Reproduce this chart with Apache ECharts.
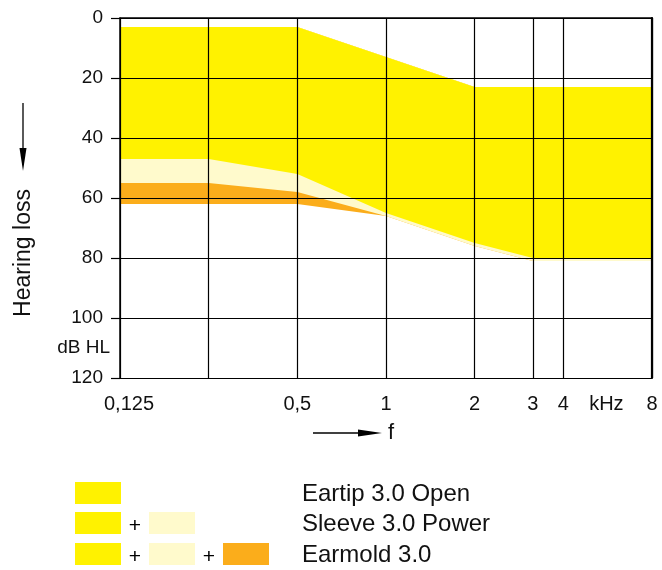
<!DOCTYPE html>
<html><head><meta charset="utf-8">
<script src="https://cdn.jsdelivr.net/npm/echarts@6/dist/echarts.min.js"></script>
<style>html,body{margin:0;padding:0;background:#fff}#c{width:662px;height:570px}</style>
</head><body><div id="c"></div>
<script>
// ---- data ----
const freqs = [0.125, 0.25, 0.5, 1, 2, 3.15, 8];
const openTop = [3, 3, 3, 13, 23, 23, 23];
const openBottom = [47, 47, 52, 65, 75, 80, 80];
const sleeveBottom = [55, 55, 58, 66, 76, 81, 81];
const earmoldBottom = [62, 62, 62, 66, 76, 81, 81];
const gridFreqs = [0.125, 0.25, 0.5, 1, 2, 3.15, 4, 8];
const freqLabels = [0.125, 0.5, 1, 2, 3.15, 4, 5.6, 8]; // 5.6 carries the unit "kHz"
const freqLabelText = ['0,125', '0,5', '1', '2', '3', '4', 'kHz', '8'];
const yTicks = [0, 20, 40, 60, 80, 100, 120];
const unitLabelValue = [110]; // "dB HL"
const names = ['Eartip 3.0 Open', 'Sleeve 3.0 Power', 'Earmold 3.0'];
const cOpen = '#fff200', cSleeve = '#fffacc', cEar = '#fbad1b';

const FONT = 'Arial, "Liberation Sans", sans-serif';

function bandSeries(name, top, bottom, color) {
  return {
    type: 'custom', name: name, silent: true, animation: false,
    data: freqs.map((f, i) => [f, top[i], bottom[i]]),
    encode: { x: 0, y: [1, 2] },
    renderItem: function (params, api) {
      if (params.dataIndex !== 0) return null;
      const n = params.dataInsideLength;
      const upper = [], lower = [];
      for (let j = 0; j < n; j++) {
        upper.push(api.coord([api.value(0, j), api.value(1, j)]));
        lower.push(api.coord([api.value(0, j), api.value(2, j)]));
      }
      return { type: 'polygon', shape: { points: upper.concat(lower.reverse()) }, style: { fill: color, stroke: null } };
    }
  };
}

const series = [
  bandSeries(names[2], openTop, earmoldBottom, cEar),
  bandSeries(names[1], openTop, sleeveBottom, cSleeve),
  bandSeries(names[0], openTop, openBottom, cOpen)
];

const fmtF = v => {
  let k = 0, best = Infinity;
  freqLabels.forEach((f, i) => { const d = Math.abs(f - v); if (d < best) { best = d; k = i; } });
  return k === 0 ? '{p|' + freqLabelText[0] + '}' : freqLabelText[k];
};

// legend graphics
const legendRows = [[cOpen], [cOpen, cSleeve], [cOpen, cSleeve, cEar]];
const rowY = [482, 512, 543];
const legendG = [];
legendRows.forEach((row, r) => {
  row.forEach((col, k) => {
    legendG.push({ type: 'rect', shape: { x: 75 + k * 74, y: rowY[r], width: 46, height: 22 }, style: { fill: col } });
    if (k > 0) legendG.push({ type: 'text', x: 135 + (k - 1) * 74, y: rowY[r] + 14, style: { text: '+', font: '21px ' + FONT, fill: '#000', textAlign: 'center', textVerticalAlign: 'middle' } });
  });
  legendG.push({ type: 'text', x: 302, y: rowY[r] + 12.5, style: { text: names[r], font: '24px ' + FONT, fill: '#111', textAlign: 'left', textVerticalAlign: 'middle' } });
});

const chart = echarts.init(document.getElementById('c'), null, { renderer: 'canvas' });
chart.setOption({
  animation: false,
  backgroundColor: '#fff',
  grid: { left: 120, right: 10, top: 18, bottom: 192, outerBoundsMode: 'none', containLabel: false },
  xAxis: {
    type: 'log', logBase: 2, min: 0.125, max: 8, z: 5,
    axisLine: { show: true, lineStyle: { color: '#000', width: 1.5 } },
    axisTick: { show: false, customValues: gridFreqs },
    splitLine: { show: true, customValues: gridFreqs, lineStyle: { color: '#000', width: 1.2 } },
    axisLabel: { customValues: freqLabels, formatter: fmtF, fontSize: 20, color: '#111', fontFamily: FONT, margin: 16,
      rich: { p: { fontSize: 20, color: '#111', fontFamily: FONT, padding: [0, 0, 0, 18] } } }
  },
  yAxis: [{
    type: 'value', inverse: true, min: 0, max: 120, interval: 20, z: 5,
    axisLine: { show: true, lineStyle: { color: '#000', width: 1.5 } },
    axisTick: { show: true, inside: false, length: 9, customValues: yTicks, lineStyle: { color: '#000', width: 1.2 } },
    splitLine: { show: true, customValues: yTicks, lineStyle: { color: '#000', width: 1.2 } },
    axisLabel: { customValues: yTicks, fontSize: 19, color: '#111', fontFamily: FONT, margin: 17 }
  }, {
    type: 'value', inverse: true, min: 0, max: 120, position: 'left', z: 5,
    axisLine: { show: false }, axisTick: { show: false }, splitLine: { show: false },
    axisLabel: { customValues: unitLabelValue, formatter: () => 'dB HL', fontSize: 19, color: '#111', fontFamily: FONT, margin: 10 }
  }, {
    type: 'value', inverse: true, min: 0, max: 120, position: 'right', z: 6,
    axisLine: { show: true, lineStyle: { color: '#000', width: 2.2 } }, axisTick: { show: false }, splitLine: { show: false },
    axisLabel: { show: false }
  }],
  series: series,
  graphic: [
    { type: 'text', x: 24, y: 253, rotation: Math.PI / 2, style: { text: 'Hearing loss', font: '23px ' + FONT, fill: '#111', textAlign: 'center', textVerticalAlign: 'middle' } },
    { type: 'line', shape: { x1: 23, y1: 103, x2: 23, y2: 152 }, style: { stroke: '#000', lineWidth: 1.3 } },
    { type: 'polygon', shape: { points: [[19.5, 148], [26.5, 148], [23, 171]] }, style: { fill: '#000' } },
    { type: 'line', shape: { x1: 313, y1: 433, x2: 362, y2: 433 }, style: { stroke: '#000', lineWidth: 1.3 } },
    { type: 'polygon', shape: { points: [[358, 429.5], [358, 436.5], [382, 433]] }, style: { fill: '#000' } },
    { type: 'text', x: 388, y: 433, style: { text: 'f', font: '22px ' + FONT, fill: '#111', textAlign: 'left', textVerticalAlign: 'middle' } }
  ].concat(legendG)
});
</script></body></html>
